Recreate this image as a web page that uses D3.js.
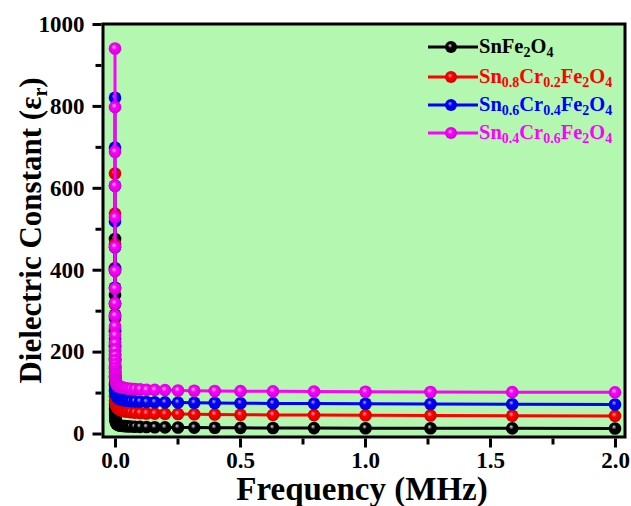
<!DOCTYPE html>
<html><head><meta charset="utf-8">
<script src="https://cdn.jsdelivr.net/npm/d3@7"></script>
<style>html,body{margin:0;padding:0;background:#fff;}svg{display:block;}</style>
</head><body>
<script>
const freqs = [0.00002,0.0000252,0.0000317,0.0000399,0.0000502,0.0000632,0.0000796,0.0001002,0.0001262,0.0001589,
 0.0002,0.000252,0.000317,0.000399,0.000502,0.000632,0.000796,0.001002,0.001262,0.001589,
 0.002,0.00252,0.00317,0.00399,0.00502,0.00632,0.00796,0.01002,0.01262,0.01589,
 0.02,0.0252,0.0317,0.0399,0.0502,0.0632,0.0796,0.1002,0.1262,0.1589,
 0.2,0.252,0.317,0.399,0.502,0.632,0.796,1.002,1.262,1.589,2.0];
const snFe2O4 = [475,398,338,290,249,214,184,159,138,120,104,91,80,70,62,55,49,44,40,36.5,33.5,31,29,27,25.5,24,23,22,21,20.2,19.5,19,18.5,18,17.5,17,16.6,16.2,15.8,15.4,15,14.7,14.4,14.1,13.8,13.5,13.2,13,12.8,12.6,12.4];
const cr02 = [635,537,462,404,356,315,280,250,224,201,181,164,149,136,125,115,106,98.5,92,86.5,82,78,74.5,71.5,69,66.5,64.5,62.5,61,59.5,58,56.5,55,54,53,52,51,50,49,48.5,48,47.5,47,46.5,46,45.5,45,44.5,44,43.5,43];
const cr04 = [820,698,605,518,455,402,356,318,285,256,232,211,193,177,163,151,140,131,123,116,110,105,100.5,97,94,91.5,89.5,88,86.5,85,84,83,82,81,80,79,78.5,78,77,76.5,76,75.5,75,74.5,74,73.5,73,72.5,72,71.5,71];
const cr06 = [940,797,688,605,528,456,397,354,318,288,262,240,221,205,191,179,169,160,152,145,139,134,130,126.5,123.5,121,119,117.5,116,115,114,113,112,111,110,109,108.5,108,107,106.5,106,105,104.5,104,103.5,103,102.5,102,101.5,101,100.5];
const seriesNames = [
  [["Sn",""],["Fe",""],["2","sub"],["O",""],["4","sub"]],
  [["Sn",""],["0.8","sub"],["Cr",""],["0.2","sub"],["Fe",""],["2","sub"],["O",""],["4","sub"]],
  [["Sn",""],["0.6","sub"],["Cr",""],["0.4","sub"],["Fe",""],["2","sub"],["O",""],["4","sub"]],
  [["Sn",""],["0.4","sub"],["Cr",""],["0.6","sub"],["Fe",""],["2","sub"],["O",""],["4","sub"]]
];
const seriesValues = [snFe2O4, cr02, cr04, cr06];
const seriesColors = ["#000000", "#ff0000", "#0000ff", "#ff00ff"];
const yTicks = [0,200,400,600,800,1000];
const xTicks = [0.0,0.5,1.0,1.5,2.0];

const W = 631, H = 506;
const svg = d3.select("body").append("svg").attr("width", W).attr("height", H);
const L = 103, R = 625, T = 24, B = 437;
const x = d3.scaleLinear().domain([-0.048, 2.04]).range([L, R]);
const y = d3.scaleLinear().domain([-8.5, 1000]).range([B, T]);

const defs = svg.append("defs");
const hl = ["#dddddd", "#ffb0b0", "#b0b0ff", "#ffd0ff"];
seriesColors.forEach((c, i) => {
  const g = defs.append("radialGradient").attr("id", "ball" + i)
    .attr("cx", "0.5").attr("cy", "0.5").attr("r", "0.55").attr("fx", "0.4").attr("fy", "0.35");
  g.append("stop").attr("offset", "0%").attr("stop-color", hl[i]);
  g.append("stop").attr("offset", "35%").attr("stop-color", c);
  g.append("stop").attr("offset", "100%").attr("stop-color", d3.color(c).darker(0.6));
});

svg.append("rect").attr("x", L).attr("y", T).attr("width", R - L).attr("height", B - T).attr("fill", "#b3f7b0");

const line = d3.line().x((d, i) => x(freqs[i])).y(d => y(d));
seriesValues.forEach((vals, si) => {
  const g = svg.append("g");
  g.append("path").datum(vals).attr("d", line).attr("fill", "none")
    .attr("stroke", seriesColors[si]).attr("stroke-width", 3);
  g.selectAll("circle").data(vals).join("circle")
    .attr("cx", (d, i) => x(freqs[i])).attr("cy", d => y(d)).attr("r", 6.3)
    .attr("fill", `url(#ball${si})`);
});

// frame
svg.append("rect").attr("x", L).attr("y", T).attr("width", R - L).attr("height", B - T)
  .attr("fill", "none").attr("stroke", "#000").attr("stroke-width", 3);

const font = "'Liberation Serif','Times New Roman',serif";
// y axis
const ya = svg.append("g").attr("transform", `translate(${L - 1.5},0)`)
  .call(d3.axisLeft(y).tickValues(yTicks).tickSize(9).tickPadding(8).tickFormat(d3.format("d")));
ya.select(".domain").remove();
ya.selectAll(".tick line").attr("stroke-width", 3);
ya.selectAll("text").attr("font-family", font).attr("font-weight", "bold").attr("font-size", 23).attr("fill", "#000");
const yam = svg.append("g").attr("transform", `translate(${L - 1.5},0)`)
  .call(d3.axisLeft(y).tickValues([100,300,500,700,900]).tickSize(6).tickFormat(""));
yam.select(".domain").remove();
yam.selectAll(".tick line").attr("stroke-width", 3);

// x axis
const xa = svg.append("g").attr("transform", `translate(0,${B + 1.5})`)
  .call(d3.axisBottom(x).tickValues(xTicks).tickSize(9).tickPadding(4).tickFormat(d3.format(".1f")));
xa.select(".domain").remove();
xa.selectAll(".tick line").attr("stroke-width", 3);
xa.selectAll("text").attr("font-family", font).attr("font-weight", "bold").attr("font-size", 23).attr("fill", "#000");
const xam = svg.append("g").attr("transform", `translate(0,${B + 1.5})`)
  .call(d3.axisBottom(x).tickValues([0.25,0.75,1.25,1.75]).tickSize(6).tickFormat(""));
xam.select(".domain").remove();
xam.selectAll(".tick line").attr("stroke-width", 3);

// axis titles
svg.append("text").attr("x", 362).attr("y", 500).attr("text-anchor", "middle")
  .attr("font-family", font).attr("font-weight", "bold").attr("font-size", 33).text("Frequency (MHz)");
const yt = svg.append("text").attr("transform", `translate(41,${(T + B) / 2}) rotate(-90)`).attr("text-anchor", "middle")
  .attr("font-family", font).attr("font-weight", "bold").attr("font-size", 31);
yt.append("tspan").text("Dielectric Constant (ε");
yt.append("tspan").attr("font-size", 20).attr("dy", 6).text("r");
yt.append("tspan").attr("dy", -6).text(")");

// legend
const legY = [47, 77, 105, 133];
seriesNames.forEach((parts, i) => {
  const g = svg.append("g");
  g.append("line").attr("x1", 428).attr("x2", 478).attr("y1", legY[i]).attr("y2", legY[i])
    .attr("stroke", seriesColors[i]).attr("stroke-width", 3);
  g.append("circle").attr("cx", 451).attr("cy", legY[i]).attr("r", 6).attr("fill", `url(#ball${i})`);
  const t = g.append("text").attr("x", 479).attr("y", legY[i] + 6).attr("font-family", font)
    .attr("font-weight", "bold").attr("font-size", 20.5).attr("fill", seriesColors[i]);
  let sub = false;
  parts.forEach(([s, k]) => {
    const ts = t.append("tspan").text(s);
    if (k === "sub" && !sub) { ts.attr("dy", 4).attr("font-size", 14); sub = true; }
    else if (k === "sub") { ts.attr("font-size", 14); }
    else if (sub) { ts.attr("dy", -4); sub = false; }
  });
});
</script>
</body></html>
